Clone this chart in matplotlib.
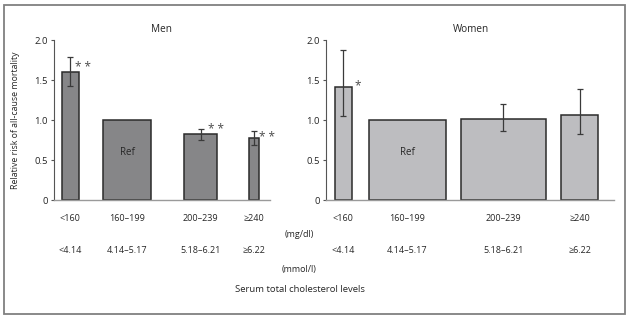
import numpy as np
import matplotlib
matplotlib.use("Agg")
import matplotlib.pyplot as plt
from matplotlib.patches import Rectangle
from matplotlib.transforms import blended_transform_factory

plt.rcParams['font.family'] = ['Open Sans', 'DejaVu Sans']

# cholesterol groups
chol_mg = ["<160", "160–199", "200–239", "≥240"]
chol_mmol = ["<4.14", "4.14–5.17", "5.18–6.21", "≥6.22"]

# relative risk with 95% CI (reference group has no interval)
men_rr = [1.60, 1.00, 0.82, 0.77]
men_lo = [1.43, np.nan, 0.75, 0.69]
men_hi = [1.79, np.nan, 0.89, 0.86]
men_sig = ["**", "", "**", "**"]

women_rr = [1.41, 1.00, 1.01, 1.06]
women_lo = [1.05, np.nan, 0.86, 0.82]
women_hi = [1.88, np.nan, 1.20, 1.39]
women_sig = ["*", "", "", ""]

ref_idx = 1

# layout (pixel units along each axis, bar width ~ group size)
W, H = 628, 323
men_box = (54, 270)
women_box = (326, 614)
men_pos = [16.4, 73.2, 146.5, 200.3]
men_w = [17.3, 47.7, 32.4, 10.0]
women_pos = [17.4, 81.2, 177.2, 253.7]
women_w = [17.3, 77.0, 85.0, 37.3]
men_star_off = [(4, 5), None, (-1, 4.5), (8, 1)]
women_star_off = [(6, 1), None, None, None]

txt = '#262626'
edge = '#2b2b2b'

fig = plt.figure(figsize=(W / 100, H / 100), dpi=100)
fig.patches.append(Rectangle((4 / W, 1 - 314 / H), 621 / W, 309 / H,
                             transform=fig.transFigure, fill=False,
                             edgecolor='#808080', lw=1.3))

y0, y2 = 200, 40  # pixel rows of 0 and 2.0


def panel(box, title, rr, lo, hi, sig, pos, widths, star_off, color, title_x):
    left, right = box
    ax = fig.add_axes([left / W, 1 - y0 / H, (right - left) / W, (y0 - y2) / H])
    ax.set_xlim(0, right - left)
    ax.set_ylim(0, 2.0)
    rr = np.array(rr)
    ax.bar(pos, rr, width=widths, color=color, edgecolor=edge, linewidth=1.1, zorder=2)
    lo = np.array(lo)
    hi = np.array(hi)
    ok = ~np.isnan(lo)
    err = np.vstack([rr - lo, hi - rr])[:, ok]
    ax.errorbar(np.array(pos)[ok], rr[ok], yerr=err, fmt='none', ecolor='#3a3a3a',
                elinewidth=0.9, capsize=2.2, capthick=0.9, zorder=3)
    for i, s in enumerate(sig):
        if s:
            dx, dy = star_off[i]
            ax.annotate(" ".join(s) if len(s) > 1 else s, (pos[i] + widths[i] / 2, rr[i]),
                        xytext=(dx * 0.72, dy * 0.72),
                        textcoords='offset points', ha='center', va='center',
                        fontsize=8.5, color='#4a4a4a')
    ax.text(pos[ref_idx], 0.6, "Ref", ha='center', va='center', fontsize=7, color=txt)

    for s in ['top', 'right']:
        ax.spines[s].set_visible(False)
    ax.spines['left'].set_color('#555555')
    ax.spines['left'].set_linewidth(0.8)
    ax.spines['bottom'].set_color('#9a9a9a')
    ax.spines['bottom'].set_linewidth(1.0)
    ax.set_yticks([0, 0.5, 1.0, 1.5, 2.0])
    ax.set_yticklabels(["0", "0.5", "1.0", "1.5", "2.0"])
    ax.tick_params(axis='y', length=2.5, width=0.8, color='#555555', labelsize=6.8,
                   labelcolor=txt, pad=2)
    ax.set_xticks([])
    ax.patch.set_visible(False)

    tr = blended_transform_factory(ax.transData, ax.transAxes)
    for i in range(len(pos)):
        ax.text(pos[i], -18.3 / 160, chol_mg[i], transform=tr, ha='center', va='center',
                fontsize=6.5, color=txt)
        ax.text(pos[i], -50.7 / 160, chol_mmol[i], transform=tr, ha='center', va='center',
                fontsize=6.5, color=txt)
    fig.text(title_x / W, 1 - 30 / H, title, ha='center', va='center', fontsize=7.2, color=txt)
    return ax


panel(men_box, "Men", men_rr, men_lo, men_hi, men_sig, men_pos, men_w,
      men_star_off, '#868688', 162)
panel(women_box, "Women", women_rr, women_lo, women_hi, women_sig, women_pos, women_w,
      women_star_off, '#bdbdc0', 471)

fig.text(16 / W, 1 - 120 / H, "Relative risk of all-cause mortality", rotation=90,
         ha='center', va='center', fontsize=6.3, color=txt)
fig.text(299 / W, 1 - 234.3 / H, "(mg/dl)", ha='center', va='center', fontsize=6.5, color=txt)
fig.text(299 / W, 1 - 269.3 / H, "(mmol/l)", ha='center', va='center', fontsize=6.5, color=txt)
fig.text(300 / W, 1 - 289 / H, "Serum total cholesterol levels", ha='center', va='center',
         fontsize=6.8, color=txt)

fig.savefig("out.png", dpi=100)
